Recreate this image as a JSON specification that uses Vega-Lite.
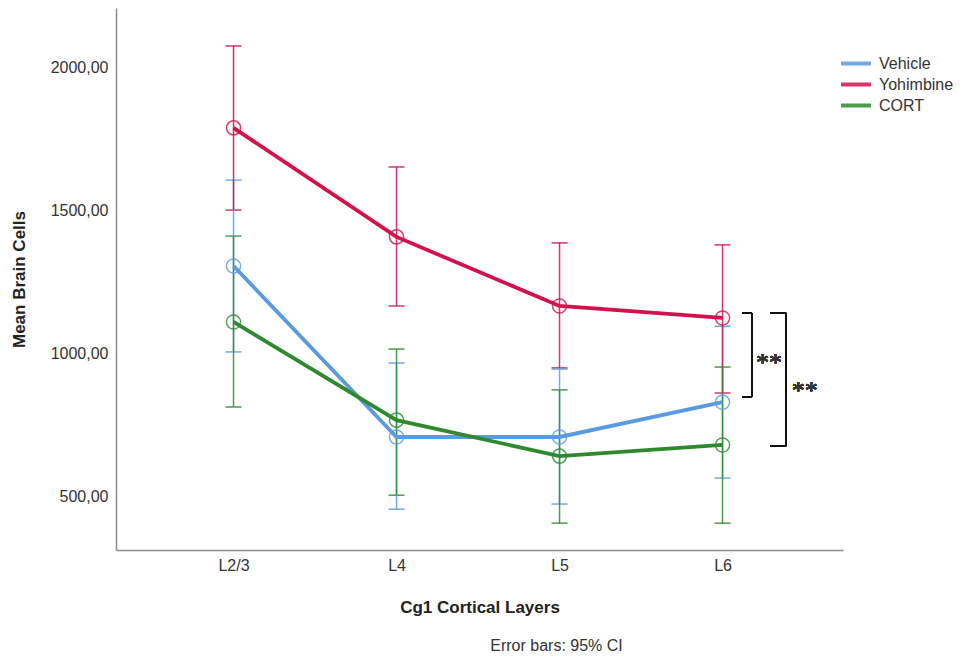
{
  "$schema": "https://vega.github.io/schema/vega-lite/v6.json",
  "width": 727,
  "height": 542,
  "autosize": {"type": "none"},
  "padding": {"left": 116, "top": 8, "right": 119, "bottom": 110},
  "background": "white",
  "config": {"view": {"stroke": null}, "font": "Liberation Sans"},
  "title": {"text": "Error bars: 95% CI", "orient": "bottom", "anchor": "middle", "frame": "group", "dx": 77, "offset": 23, "fontSize": 16, "fontWeight": "normal", "color": "#333", "font": "Liberation Sans"},
  "data": {"values": [
    {"layer": "L2/3", "idx": 1, "group": "Vehicle", "mean": 1306, "lo": 1005, "hi": 1607},
    {"layer": "L4", "idx": 2, "group": "Vehicle", "mean": 707, "lo": 454, "hi": 966},
    {"layer": "L5", "idx": 3, "group": "Vehicle", "mean": 707, "lo": 472, "hi": 945},
    {"layer": "L6", "idx": 4, "group": "Vehicle", "mean": 829, "lo": 563, "hi": 1095},
    {"layer": "L2/3", "idx": 1, "group": "Yohimbine", "mean": 1790, "lo": 1502, "hi": 2077},
    {"layer": "L4", "idx": 2, "group": "Yohimbine", "mean": 1408, "lo": 1166, "hi": 1653},
    {"layer": "L5", "idx": 3, "group": "Yohimbine", "mean": 1166, "lo": 949, "hi": 1387},
    {"layer": "L6", "idx": 4, "group": "Yohimbine", "mean": 1124, "lo": 861, "hi": 1380},
    {"layer": "L2/3", "idx": 1, "group": "CORT", "mean": 1110, "lo": 812, "hi": 1411},
    {"layer": "L4", "idx": 2, "group": "CORT", "mean": 766, "lo": 503, "hi": 1015},
    {"layer": "L5", "idx": 3, "group": "CORT", "mean": 640, "lo": 405, "hi": 872},
    {"layer": "L6", "idx": 4, "group": "CORT", "mean": 679, "lo": 405, "hi": 952}
  ]},
  "encoding": {
    "x": {"field": "idx", "type": "quantitative", "title": "Cg1 Cortical Layers",
      "scale": {"domain": [0.279, 4.739], "nice": false, "zero": false},
      "axis": {"values": [1, 2, 3, 4], "labelExpr": "['','L2/3','L4','L5','L6'][datum.value]", "grid": false, "ticks": false, "domainColor": "#8a8a8a", "domainWidth": 1.5, "labelFontSize": 16, "labelColor": "#333", "labelPadding": 7, "titleFontSize": 17, "titleFontWeight": "bold", "titleColor": "#222", "titleY": 57, "titleBaseline": "middle"}}
  },
  "layer": [
    {
      "mark": {"type": "errorbar", "ticks": {"size": 16}, "thickness": 1.5, "opacity": 0.85},
      "encoding": {
        "y": {"field": "lo", "type": "quantitative", "title": "Mean Brain Cells",
          "scale": {"domain": [311, 2210], "nice": false, "zero": false},
          "axis": {"values": [500, 1000, 1500, 2000], "labelExpr": "replace(format(datum.value,'.2f'),'.',',')", "grid": false, "ticks": false, "domainColor": "#8a8a8a", "domainWidth": 1.5, "labelFontSize": 16, "labelColor": "#333", "labelPadding": 8, "titleFontSize": 17, "titleFontWeight": "bold", "titleColor": "#222", "titleX": -97, "titleY": 271, "titleAngle": 270, "titleBaseline": "middle"}},
        "y2": {"field": "hi"},
        "color": {"field": "group", "type": "nominal",
          "scale": {"domain": ["Vehicle", "Yohimbine", "CORT"], "range": ["#5A9BE0", "#D3124B", "#2F8A2F"]},
          "legend": {"orient": "none", "legendX": 723, "legendY": 45, "title": null, "symbolType": "stroke", "symbolStrokeWidth": 4, "symbolSize": 900, "clipHeight": 21, "labelFontSize": 16, "labelColor": "#333", "rowPadding": 0, "labelOffset": 6, "padding": 0}}
      }
    },
    {
      "mark": {"type": "line", "strokeWidth": 3.8},
      "encoding": {
        "y": {"field": "mean", "type": "quantitative", "title": "Mean Brain Cells"},
        "color": {"field": "group", "type": "nominal"}
      }
    },
    {
      "mark": {"type": "point", "shape": "circle", "filled": false, "size": 200, "strokeWidth": 1.5, "opacity": 0.8},
      "encoding": {
        "y": {"field": "mean", "type": "quantitative", "title": "Mean Brain Cells"},
        "color": {"field": "group", "type": "nominal"}
      }
    },
    {"mark": {"type": "rule", "color": "#111", "strokeWidth": 1.3}, "encoding": {"x": {"datum": 4.181, "type": "quantitative"}, "y": {"datum": 1141, "type": "quantitative"}, "y2": {"datum": 847}}},
    {"mark": {"type": "rule", "color": "#111", "strokeWidth": 1.3}, "encoding": {"x": {"datum": 4.12, "type": "quantitative"}, "x2": {"datum": 4.181}, "y": {"datum": 1141, "type": "quantitative"}}},
    {"mark": {"type": "rule", "color": "#111", "strokeWidth": 1.3}, "encoding": {"x": {"datum": 4.12, "type": "quantitative"}, "x2": {"datum": 4.181}, "y": {"datum": 847, "type": "quantitative"}}},
    {"mark": {"type": "rule", "color": "#111", "strokeWidth": 1.3}, "encoding": {"x": {"datum": 4.39, "type": "quantitative"}, "y": {"datum": 1141, "type": "quantitative"}, "y2": {"datum": 675}}},
    {"mark": {"type": "rule", "color": "#111", "strokeWidth": 1.3}, "encoding": {"x": {"datum": 4.291, "type": "quantitative"}, "x2": {"datum": 4.39}, "y": {"datum": 1141, "type": "quantitative"}}},
    {"mark": {"type": "rule", "color": "#111", "strokeWidth": 1.3}, "encoding": {"x": {"datum": 4.291, "type": "quantitative"}, "x2": {"datum": 4.39}, "y": {"datum": 675, "type": "quantitative"}}},
    {"mark": {"type": "text", "text": "**", "font": "Liberation Serif", "fontSize": 26, "color": "#333", "baseline": "middle", "align": "center", "dy": 6}, "encoding": {"x": {"datum": 4.285, "type": "quantitative"}, "y": {"datum": 987, "type": "quantitative"}}},
    {"mark": {"type": "text", "text": "**", "font": "Liberation Serif", "fontSize": 26, "color": "#333", "baseline": "middle", "align": "center", "dy": 6}, "encoding": {"x": {"datum": 4.505, "type": "quantitative"}, "y": {"datum": 889, "type": "quantitative"}}}
  ]
}
